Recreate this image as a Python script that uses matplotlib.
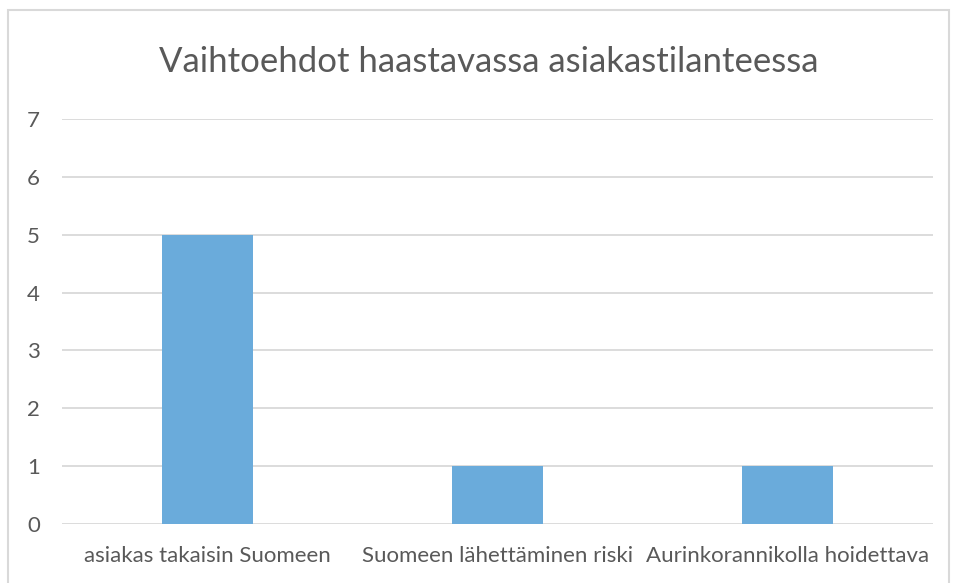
import matplotlib
matplotlib.use("Agg")
from matplotlib import pyplot as plt
from matplotlib.patches import Rectangle

categories = ["asiakas takaisin Suomeen", "Suomeen lähettäminen riski", "Aurinkorannikolla hoidettava"]
values = [5, 1, 1]
yticks = [0, 1, 2, 3, 4, 5, 6, 7]
title = "Vaihtoehdot haastavassa asiakastilanteessa"

W, H = 958, 583
plt.rcParams['font.family'] = ['Lato', 'DejaVu Sans']
fig = plt.figure(figsize=(W / 100, H / 100), dpi=100)

# chart border (Excel style)
fig.patches.append(Rectangle((8 / W, -0.01), 941 / W, (H - 10) / H + 0.01,
                             transform=fig.transFigure, fill=False,
                             edgecolor="#d9d9d9", linewidth=1.5))

ax = fig.add_axes([62 / W, (H - 524) / H, (933 - 62) / W, (524 - 119) / H])
x = range(len(categories))
ax.bar(x, values, width=0.313, color="#6aabdb", zorder=3)
ax.set_xlim(-0.5, len(categories) - 0.5)
ax.set_ylim(0, 7)
ax.set_yticks(yticks)
ax.set_xticks(list(x))
ax.set_xticklabels(categories, fontsize=16, color="#595959")
ax.tick_params(axis="y", labelsize=16, labelcolor="#595959", length=0, pad=16)
ax.tick_params(axis="x", length=0, pad=16)
ax.grid(axis="y", color="#d9d9d9", linewidth=1.3, zorder=0)
for s in ax.spines.values():
    s.set_visible(False)

fig.text(489 / W, 1 - 62 / H, title, ha="center", va="center",
         fontsize=25, color="#595959")

fig.savefig("out.png", dpi=100)
